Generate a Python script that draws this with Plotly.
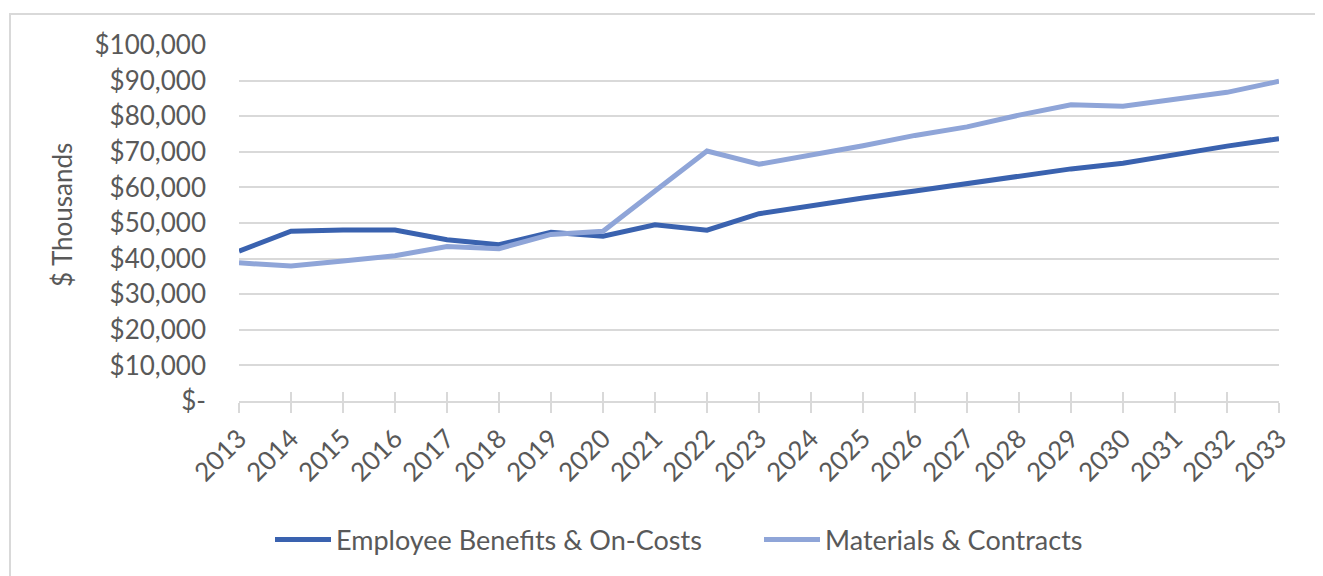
import plotly.graph_objects as go

years = list(range(2013, 2034))
employee = [42100, 47700, 48000, 48000, 45300, 43900, 47400, 46300, 49500, 48000, 52600,
            54900, 57000, 59000, 61000, 63100, 65200, 66800, 69300, 71600, 73700]
materials = [38800, 37900, 39300, 40800, 43400, 42800, 46800, 47700, 59000, 70200, 66500,
             69000, 71700, 74600, 77000, 80300, 83200, 82800, 84800, 86700, 89800]
ytick_vals = [0, 10000, 20000, 30000, 40000, 50000, 60000, 70000, 80000, 90000, 100000]
ytick_text = ["$-", "$10,000", "$20,000", "$30,000", "$40,000", "$50,000", "$60,000",
              "$70,000", "$80,000", "$90,000", "$100,000"]

OFF = 8  # page body margin
W, H = 1323 - OFF, 576 - OFF
L, R, T, B = 239, 1279, 45, 401  # page coordinates of the plot area
pw, ph = R - L, B - T
def px(x):
    return (x - L) / pw
def py(y):
    return (B - y) / ph

font = "Lato, 'Open Sans', sans-serif"
txt = "#595959"
FS = 26

fig = go.Figure()
fig.add_trace(go.Scatter(x=years, y=employee, mode="lines", name="Employee Benefits & On-Costs",
                         line=dict(color="#3A62AF", width=5)))
fig.add_trace(go.Scatter(x=years, y=materials, mode="lines", name="Materials & Contracts",
                         line=dict(color="#8FA5D8", width=5)))
fig.add_trace(go.Scatter(x=[years[0]], y=[0], xaxis="x2", mode="markers",
                         marker=dict(opacity=0), showlegend=False, hoverinfo="skip"))

border = dict(color="#D9D9D9", width=2)
fig.update_layout(
    width=W, height=H,
    margin=dict(l=L - OFF, r=(W + OFF) - R, t=T - OFF, b=(H + OFF) - B),
    paper_bgcolor="white", plot_bgcolor="white",
    font=dict(family=font, size=FS, color=txt),
    xaxis=dict(range=[2013, 2033], tickvals=years, ticktext=[str(y) for y in years],
               tickangle=-45, showgrid=False, zeroline=False,
               showline=True, linecolor="#D9D9D9", linewidth=2,
               ticks="outside", ticklen=10, tickwidth=2, tickcolor="#D9D9D9",
               tickfont=dict(size=FS, color=txt)),
    xaxis2=dict(range=[2013, 2033], overlaying="x", anchor="y", side="bottom",
                tickvals=years, showticklabels=False, showgrid=False, zeroline=False,
                showline=False, ticks="inside", ticklen=9, tickwidth=2, tickcolor="#D9D9D9"),
    yaxis=dict(range=[0, 100000], tickvals=ytick_vals, ticktext=ytick_text,
               showgrid=True, gridcolor="#D9D9D9", gridwidth=2, zeroline=False,
               showline=False, ticks="", ticklabelstandoff=32,
               tickfont=dict(size=FS, color=txt)),
    legend=dict(orientation="h", x=px(270), xanchor="left", y=py(540), yanchor="middle",
                font=dict(size=FS + 1, color=txt), itemwidth=56, entrywidth=418,
                bgcolor="rgba(0,0,0,0)"),
    showlegend=True,
    annotations=[dict(text="$ Thousands", xref="paper", yref="paper", x=px(62), y=py(215),
                      showarrow=False, textangle=-90, font=dict(size=FS, color=txt),
                      xanchor="center", yanchor="middle")],
    shapes=[
        dict(type="path", xref="paper", yref="paper",
             path=f"M {px(10)},{py(620)} L {px(10)},{py(14)} L {px(1330)},{py(14)}",
             line=border, fillcolor="rgba(0,0,0,0)", layer="below"),
    ],
)

fig.write_html("out.html")
